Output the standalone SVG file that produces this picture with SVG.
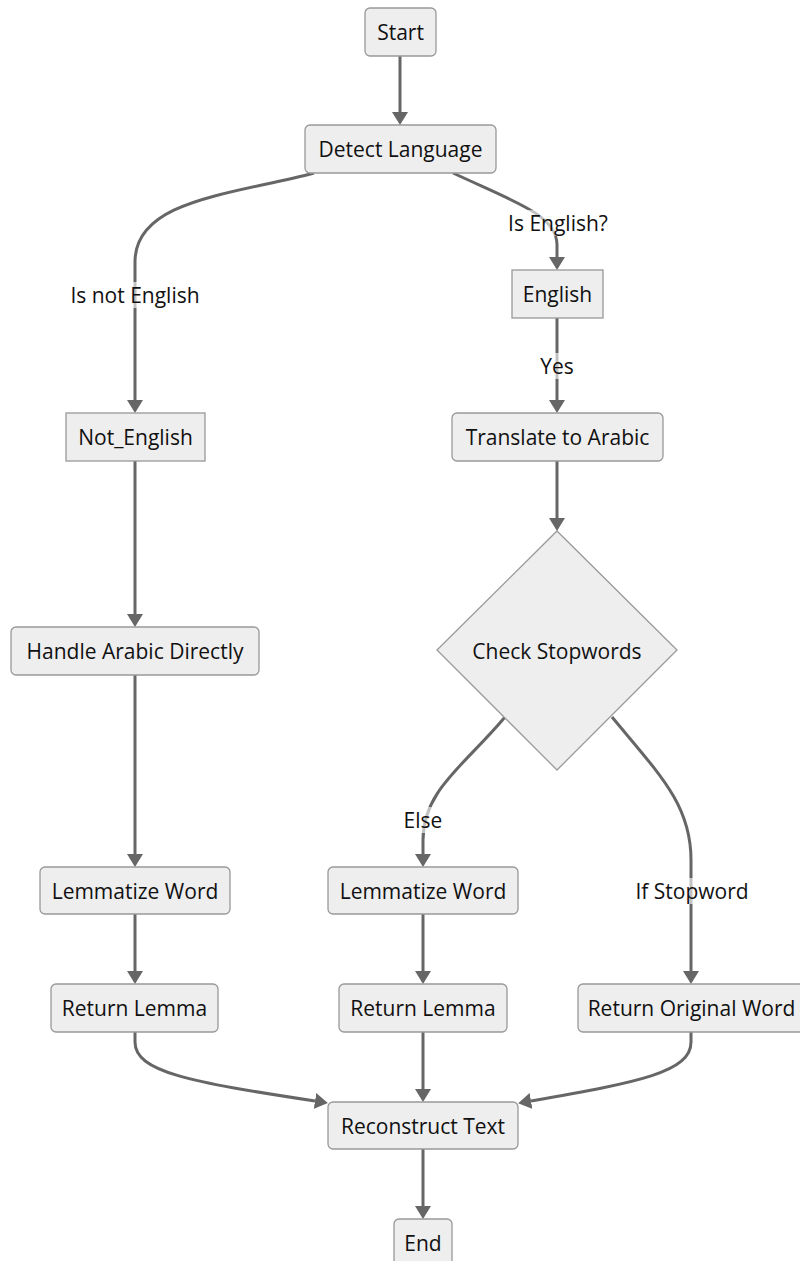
<svg xmlns="http://www.w3.org/2000/svg" width="800" height="1261" viewBox="0 0 800 1261">
<defs>
<style>
.node rect, .node polygon { fill: #eeeeee; stroke: #999999; stroke-width: 1.3; }
.node text, .lbl text { font-family: "Open Sans", "Noto Sans", "DejaVu Sans", sans-serif; font-size: 21px; fill: #111111; text-anchor: middle; dominant-baseline: central; }
.edge { fill: none; stroke: #666666; stroke-width: 3; }
.lbl rect { fill: #ffffff; fill-opacity: 0.6; }
</style>
<marker id="arr" markerUnits="userSpaceOnUse" markerWidth="14" markerHeight="16" refX="0" refY="8" orient="auto">
<path d="M0,0 L13,8 L0,16 z" fill="#666666"/>
</marker>
</defs>
<rect x="0" y="0" width="800" height="1261" fill="#ffffff"/>
<g id="connectors">
<path class="edge" marker-end="url(#arr)" d="M400,56 L400,112"/>
<path class="edge" marker-end="url(#arr)" d="M314,173 C230,195 135,200 135,262 L135,400"/>
<path class="edge" marker-end="url(#arr)" d="M453,173 C515,202 557,215 557,245 L557,257"/>
<path class="edge" marker-end="url(#arr)" d="M557,318 L557,400"/>
<path class="edge" marker-end="url(#arr)" d="M557,461 L557,518"/>
<path class="edge" marker-end="url(#arr)" d="M135,461 L135,614"/>
<path class="edge" marker-end="url(#arr)" d="M135,675 L135,854"/>
<path class="edge" marker-end="url(#arr)" d="M505,717 C465,765 423,790 423,840 L423,854"/>
<path class="edge" marker-end="url(#arr)" d="M612,717 C660,775 691,805 691,860 L691,971"/>
<path class="edge" marker-end="url(#arr)" d="M135,914 L135,971"/>
<path class="edge" marker-end="url(#arr)" d="M423,914 L423,971"/>
<path class="edge" marker-end="url(#arr)" d="M135,1032 L135,1042 C135,1072 190,1082 315,1101"/>
<path class="edge" marker-end="url(#arr)" d="M423,1032 L423,1089"/>
<path class="edge" marker-end="url(#arr)" d="M691,1032 L691,1042 C691,1072 640,1082 531,1101"/>
<path class="edge" marker-end="url(#arr)" d="M423,1149 L423,1206"/>
</g>
<g id="labels">
<g class="lbl"><rect x="68" y="282" width="134" height="26"/><text x="135" y="295">Is not English</text></g>
<g class="lbl"><rect x="507" y="210" width="102" height="26"/><text x="558" y="223">Is English?</text></g>
<g class="lbl"><rect x="539" y="353" width="36" height="26"/><text x="557" y="366">Yes</text></g>
<g class="lbl"><rect x="402" y="807" width="42" height="26"/><text x="423" y="820">Else</text></g>
<g class="lbl"><rect x="634" y="878" width="116" height="26"/><text x="692" y="891">If Stopword</text></g>
</g>
<g id="start" class="node"><rect x="365" y="8" width="71" height="48" rx="5"/><text x="400.5" y="32">Start</text></g>
<g id="detect" class="node"><rect x="305" y="125" width="191" height="48" rx="5"/><text x="400.5" y="149">Detect Language</text></g>
<g id="english" class="node"><rect x="512" y="270" width="91" height="48"/><text x="557.5" y="294">English</text></g>
<g id="not_english" class="node"><rect x="66" y="413" width="139" height="48"/><text x="135.5" y="437">Not_English</text></g>
<g id="translate" class="node"><rect x="452" y="413" width="211" height="48" rx="5"/><text x="557.5" y="437">Translate to Arabic</text></g>
<g id="check" class="node"><polygon points="557,531 677,650 557,770 437,650"/><text x="557" y="651">Check Stopwords</text></g>
<g id="handle" class="node"><rect x="11" y="627" width="248" height="48" rx="5"/><text x="135" y="651">Handle Arabic Directly</text></g>
<g id="lemma_left" class="node"><rect x="40" y="867" width="190" height="47" rx="5"/><text x="135" y="890.5">Lemmatize Word</text></g>
<g id="lemma_mid" class="node"><rect x="328" y="867" width="190" height="47" rx="5"/><text x="423" y="890.5">Lemmatize Word</text></g>
<g id="ret_left" class="node"><rect x="51" y="984" width="167" height="48" rx="5"/><text x="134.5" y="1008">Return Lemma</text></g>
<g id="ret_mid" class="node"><rect x="339" y="984" width="168" height="48" rx="5"/><text x="423" y="1008">Return Lemma</text></g>
<g id="ret_orig" class="node"><rect x="578" y="984" width="227" height="48" rx="5"/><text x="691.5" y="1008">Return Original Word</text></g>
<g id="reconstruct" class="node"><rect x="328" y="1102" width="190" height="47" rx="5"/><text x="423" y="1125.5">Reconstruct Text</text></g>
<g id="end" class="node"><rect x="394" y="1219" width="58" height="48" rx="5"/><text x="423" y="1243">End</text></g>
</svg>
